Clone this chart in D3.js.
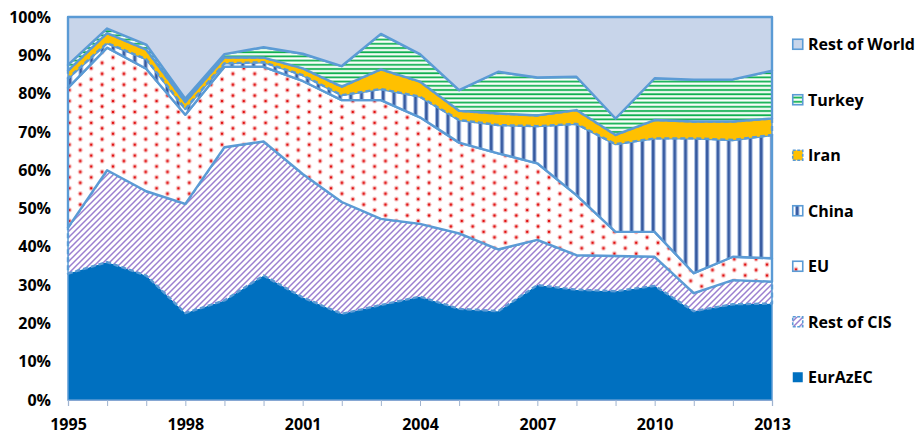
<!DOCTYPE html>
<html>
<head>
<meta charset="utf-8">
<script src="https://cdn.jsdelivr.net/npm/d3@7"></script>
<style>
  body { margin: 0; background: #fff; }
  svg text { font-family: "Open Sans", sans-serif; font-weight: 700; fill: #000; }
</style>
</head>
<body>
<svg id="chart" width="924" height="434"></svg>
<script>
// Export shares by destination, % of total
const years = [1995, 1996, 1997, 1998, 1999, 2000, 2001, 2002, 2003, 2004,
               2005, 2006, 2007, 2008, 2009, 2010, 2011, 2012, 2013];
const eurazec     = [33.0, 36.0, 32.5, 22.7, 26.0, 32.5, 26.8, 22.5, 24.8, 27.0, 23.8, 23.2, 30.0, 28.8, 28.4, 29.8, 23.2, 25.0, 25.2];
const restOfCis   = [12.0, 24.0, 22.0, 28.5, 40.0, 35.0, 32.2, 29.2, 22.5, 19.0, 19.7, 16.1, 11.8,  9.0,  9.2,  7.6,  4.7,  6.3,  5.7];
const eu          = [36.5, 32.0, 32.0, 23.3, 21.0, 19.5, 24.3, 26.6, 31.0, 27.8, 23.7, 25.1, 20.0, 15.7,  6.3,  6.5,  5.2,  6.1,  6.1];
const china       = [ 2.5,  1.2,  2.5,  1.5,  0.9,  1.2,  1.5,  1.3,  2.9,  5.4,  5.9,  7.4,  9.7, 18.6, 22.9, 24.4, 35.2, 30.5, 32.2];
const iran        = [ 2.0,  2.6,  2.5,  1.8,  1.6,  1.2,  1.8,  2.2,  5.1,  3.9,  2.4,  3.0,  2.8,  3.6,  2.4,  4.8,  4.4,  4.8,  4.3];
const turkey      = [ 1.5,  1.2,  1.3,  0.9,  0.8,  2.7,  3.8,  5.4,  9.3,  7.2,  5.4, 10.9,  9.9,  8.7,  4.3, 10.9, 10.9, 11.0, 12.5];
const restOfWorld = [12.5,  3.0,  7.2, 21.3,  9.7,  7.9,  9.6, 12.8,  4.4,  9.7, 19.1, 14.3, 15.8, 15.6, 26.5, 16.0, 16.4, 16.3, 14.0];

const seriesNames = ["EurAzEC", "Rest of CIS", "EU", "China", "Iran", "Turkey", "Rest of World"];
const seriesValues = [eurazec, restOfCis, eu, china, iran, turkey, restOfWorld];
const xTickLabels = [1995, 1998, 2001, 2004, 2007, 2010, 2013];
const yTickValues = [0, 10, 20, 30, 40, 50, 60, 70, 80, 90, 100];

const rows = years.map((yr, i) => {
  const r = { year: yr };
  seriesNames.forEach((n, k) => { r[n] = seriesValues[k][i]; });
  return r;
});

const svg = d3.select("#chart");
const plot = { left: 68, right: 772, top: 17, bottom: 400 };
const edge = "#5b9bd5";

const x = d3.scaleLinear().domain([years[0], years[years.length - 1]]).range([plot.left, plot.right]);
const y = d3.scaleLinear().domain([0, 100]).range([plot.bottom, plot.top]);

// ---- fill patterns ----
const defs = svg.append("defs");

// upward diagonal stripes (Rest of CIS)
const pCis = defs.append("pattern").attr("id", "pat-cis")
  .attr("patternUnits", "userSpaceOnUse").attr("width", 6).attr("height", 6);
pCis.append("rect").attr("width", 6).attr("height", 6).attr("fill", "#fff");
pCis.append("path").attr("d", "M-1,1 L1,-1 M0,6 L6,0 M5,7 L7,5")
  .attr("stroke", "#9b7fd0").attr("stroke-width", 1.5);

// staggered red dots (EU)
const pEu = defs.append("pattern").attr("id", "pat-eu")
  .attr("patternUnits", "userSpaceOnUse").attr("width", 21.8).attr("height", 10.9);
pEu.append("rect").attr("width", 21.8).attr("height", 10.9).attr("fill", "#fff");
[[4, 3], [14.9, 8.45]].forEach(([cx, cy]) => {
  pEu.append("circle").attr("cx", cx).attr("cy", cy).attr("r", 2.4).attr("fill", "#f6b8b8");
  pEu.append("circle").attr("cx", cx).attr("cy", cy).attr("r", 1.25).attr("fill", "#e01010");
});

// vertical stripes (China)
const pCn = defs.append("pattern").attr("id", "pat-cn")
  .attr("patternUnits", "userSpaceOnUse").attr("width", 10.8).attr("height", 10);
pCn.append("rect").attr("width", 10.8).attr("height", 10).attr("fill", "#fff");
pCn.append("rect").attr("x", 3).attr("width", 4.4).attr("height", 10).attr("fill", "#9db5de");
pCn.append("rect").attr("x", 4).attr("width", 2.4).attr("height", 10).attr("fill", "#34589f");

// horizontal stripes (Turkey)
const pTr = defs.append("pattern").attr("id", "pat-tr")
  .attr("patternUnits", "userSpaceOnUse").attr("width", 10).attr("height", 4.2);
pTr.append("rect").attr("width", 10).attr("height", 4.2).attr("fill", "#fff");
pTr.append("rect").attr("y", 0.6).attr("width", 10).attr("height", 2.4).attr("fill", "#8fdcaa");
pTr.append("rect").attr("y", 1.1).attr("width", 10).attr("height", 1.4).attr("fill", "#0cae4e");

const styles = {
  "EurAzEC":       { fill: "#0070c0",      stroke: "none", dash: null },
  "Rest of CIS":   { fill: "url(#pat-cis)", stroke: edge,  dash: "5,3" },
  "EU":            { fill: "url(#pat-eu)",  stroke: edge,  dash: null },
  "China":         { fill: "url(#pat-cn)",  stroke: edge,  dash: null },
  "Iran":          { fill: "#ffc000",       stroke: edge,  dash: "5,3" },
  "Turkey":        { fill: "url(#pat-tr)",  stroke: edge,  dash: null },
  "Rest of World": { fill: "#c8d5ea",       stroke: edge,  dash: null }
};

// ---- stacked areas ----
const stacked = d3.stack().keys(seriesNames)(rows);
const area = d3.area()
  .x(d => x(d.data.year))
  .y0(d => y(d[0]))
  .y1(d => y(d[1]));

const areaG = svg.append("g");
stacked.forEach(s => {
  const st = styles[s.key];
  areaG.append("path")
    .datum(s)
    .attr("d", area)
    .attr("fill", st.fill)
    .attr("stroke", st.stroke)
    .attr("stroke-width", 2.4)
    .attr("stroke-linejoin", "round")
    .attr("stroke-dasharray", st.dash);
});

// plot frame
svg.append("rect")
  .attr("x", plot.left).attr("y", plot.top)
  .attr("width", plot.right - plot.left).attr("height", plot.bottom - plot.top)
  .attr("fill", "none").attr("stroke", edge).attr("stroke-width", 1.5);

// ---- axes ----
const xAxis = svg.append("g")
  .attr("transform", `translate(0,${plot.bottom})`)
  .call(d3.axisBottom(x)
    .tickValues(years)
    .tickSize(6)
    .tickFormat(v => xTickLabels.includes(v) ? String(v) : ""));
xAxis.select(".domain").attr("stroke", "#86a7d3").attr("stroke-width", 1.2);
xAxis.selectAll(".tick line").attr("stroke", "#9fb3cf");
xAxis.selectAll(".tick text").attr("y", 19).attr("dy", "0.71em")
  .attr("font-size", 16);

const yAxis = svg.append("g")
  .attr("transform", `translate(${plot.left},0)`)
  .call(d3.axisLeft(y).tickValues(yTickValues).tickSize(0).tickPadding(17)
    .tickFormat(v => v + "%"));
yAxis.select(".domain").remove();
yAxis.selectAll(".tick text").attr("font-size", 16);

// ---- legend ----
const legend = svg.append("g").attr("transform", "translate(792,0)");
const legendOrder = seriesNames.slice().reverse();
legendOrder.forEach((name, i) => {
  const st = styles[name];
  const cy = 44.5 + i * 55.5;
  const g = legend.append("g").attr("transform", `translate(0,${cy})`);
  g.append("rect")
    .attr("x", 0.75).attr("y", -5.25).attr("width", 10).attr("height", 10)
    .attr("fill", st.fill)
    .attr("stroke", st.stroke)
    .attr("stroke-width", 1.6)
    .attr("stroke-dasharray", st.dash ? "3,1.5" : null);
  g.append("text")
    .attr("x", 16).attr("y", 0).attr("dy", "0.35em")
    .attr("font-size", 16)
    .text(name);
});
</script>
</body>
</html>
